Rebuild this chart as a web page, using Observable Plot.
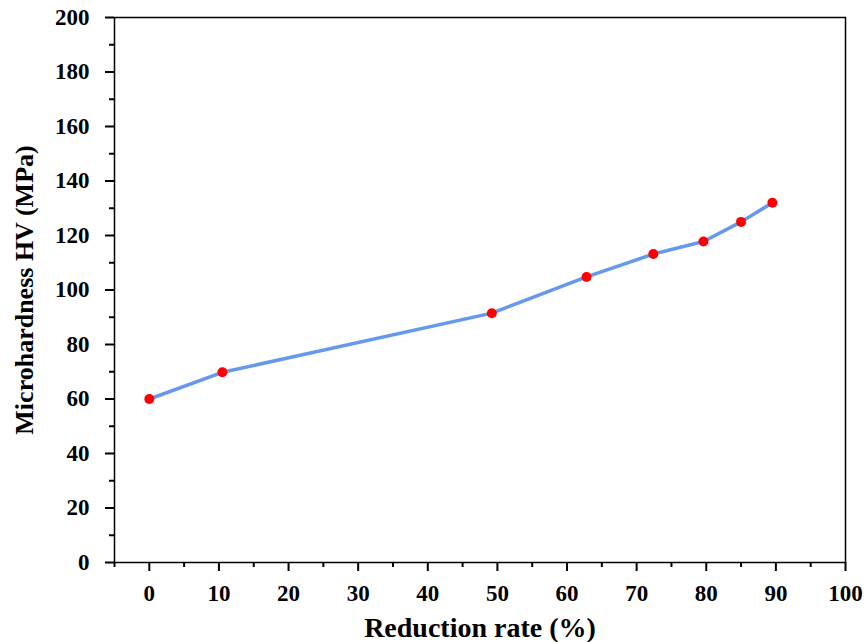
<!DOCTYPE html>
<html><head><meta charset="utf-8">
<script src="https://cdn.jsdelivr.net/npm/d3@7"></script>
<script src="https://cdn.jsdelivr.net/npm/@observablehq/plot@0.6"></script>
<style>body{margin:0;background:#fff;} svg{display:block;} #chart svg, #chart svg text{font-family:'Liberation Serif','Times New Roman',serif !important;font-weight:bold;}</style>
</head><body><div id="chart"></div>
<script>
const reduction = [0, 10.5, 49.2, 62.8, 72.4, 79.6, 85.0, 89.5];
const hardness = [60, 69.8, 91.5, 104.8, 113.2, 117.8, 125, 132];
const xTicks = [0,10,20,30,40,50,60,70,80,90,100];
const xMinor = [-5,5,15,25,35,45,55,65,75,85,95];
const yTicks = [0,20,40,60,80,100,120,140,160,180,200];
const yMinor = [10,30,50,70,90,110,130,150,170,190];
const data = reduction.map((r,i)=>({r, h: hardness[i]}));
const chart = Plot.plot({
  width: 866, height: 642,
  marginLeft: 114, marginRight: 21, marginTop: 17, marginBottom: 80,
  style: "font-family:'Liberation Serif',serif;font-weight:bold;font-size:23px;color:#000;background:#fff",
  x: {domain: [-5, 100]},
  y: {domain: [0, 200]},
  marks: [
    Plot.frame({stroke: "#000", strokeWidth: 1.5}),
    Plot.axisX({ticks: xTicks, tickSize: 9, tickPadding: 13, strokeWidth: 2, label: null, fontSize: 23}),
    Plot.axisX({ticks: xMinor, tickSize: 5, text: null, strokeWidth: 2, label: null}),
    Plot.axisY({ticks: yTicks, tickSize: 9, tickPadding: 16, strokeWidth: 2, label: null, fontSize: 23}),
    Plot.axisY({ticks: yMinor, tickSize: 5, text: null, strokeWidth: 2, label: null}),
    Plot.text(["Reduction rate (%)"], {x: 47.5, y: 0, dy: 66, fontSize: 28, fontWeight: "bold"}),
    Plot.text(["Microhardness HV (MPa)"], {x: -5, y: 100, rotate: -90, dx: -90, fontSize: 26, fontWeight: "bold"}),
    Plot.line(data, {x: "r", y: "h", stroke: "#6699ee", strokeWidth: 3.5}),
    Plot.dot(data, {x: "r", y: "h", r: 5, fill: "#ff0000", stroke: "none"})
  ]
});
document.getElementById("chart").appendChild(chart);
</script></body></html>
